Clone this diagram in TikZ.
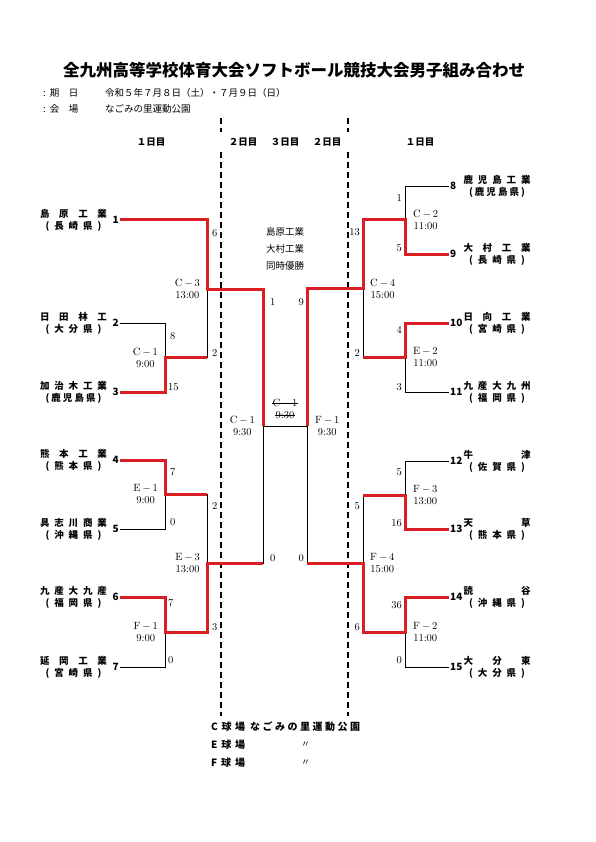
\documentclass[tikz,border=0pt]{standalone}
\usepackage{fontspec}
\newfontfamily\jp{Noto Sans CJK JP}
\usetikzlibrary{positioning}
\definecolor{winred}{RGB}{218,30,36}

\tikzset{
  win/.style={draw=winred, line width=3pt},
  lose/.style={draw=black, line width=0.7pt},
  roundline/.style={draw=black, line width=1.6pt, dash pattern=on 6pt off 4pt},
  num/.style={font=\jp\bfseries\fontsize{10}{10}\selectfont, inner sep=1pt},
  team/.style={font=\jp\bfseries\fontsize{9.5}{10}\selectfont, inner sep=0pt},
  score/.style={font=\fontsize{10.5}{10}\selectfont, inner sep=1pt},
  game/.style={font=\fontsize{10.5}{12}\selectfont, align=center, inner sep=0pt},
  day/.style={font=\jp\bfseries\fontsize{9.5}{10}\selectfont},
  info/.style={font=\jp\fontsize{9.5}{10}\selectfont, anchor=west, inner sep=0pt},
}

\begin{document}
\begin{tikzpicture}[x=1pt, y=-1pt]
\useasboundingbox (0,0) rectangle (595,842);

  % title and dates
  \node[font=\jp\bfseries\fontsize{16.5}{17}\selectfont] (title) at (294,70) {全九州高等学校体育大会ソフトボール競技大会男子組み合わせ};
  \node[info] (lbl1) at (43,93) {:\hspace{4pt}期　日};
  \node[info] (date) at (105,93) {令和５年７月８日（土）・７月９日（日）};
  \node[info] (lbl2) at (43,109) {:\hspace{4pt}会　場};
  \node[info] (place) at (105,109) {なごみの里運動公園};

  % days
  \node[day] (d1L) at (151,142) {１日目};
  \node[day] (d2L) at (243,142) {２日目};
  \node[day] (d3) at (285,142) {３日目};
  \node[day] (d2R) at (327,142) {２日目};
  \node[day] (d1R) at (420,142) {１日目};

  \draw[roundline] (221,118) -- (221,132) (221,152) -- (221,716);
  \draw[roundline] (348,118) -- (348,132) (348,152) -- (348,716);

  % teams
  \foreach \n/\y/\name/\pref in {1/220/島 原 工 業/長 崎 県,2/323/日 田 林 工/大 分 県,3/392/加 治 木 工 業/鹿 児 島 県,4/460/熊 本 工 業/熊 本 県,5/529/具 志 川 商 業/沖 縄 県,6/597/九 産 大 九 産/福 岡 県,7/667/延 岡 工 業/宮 崎 県} {
    \node[num, anchor=east] (t\n) at (120,\y) {\n};
    \node[team] (n\n) at (73.5,\y-6) {\makebox[67pt][s]{\name}};
    \node[team] (p\n) at (73.5,\y+6.5) {\makebox[56pt][s]{( \pref{} )}};
  }
  \foreach \n/\y/\name/\pref in {8/186/鹿 児 島 工 業/鹿 児 島 県,9/254/大 村 工 業/長 崎 県,10/323/日 向 工 業/宮 崎 県,11/392/九 産 大 九 州/福 岡 県,12/461/牛 津/佐 賀 県,13/529/天 草/熊 本 県,14/597/読 谷/沖 縄 県,15/667/大 分 東/大 分 県} {
    \node[num, anchor=west] (t\n) at (449,\y) {\n};
    \node[team] (n\n) at (497,\y-6) {\makebox[67pt][s]{\name}};
    \node[team] (p\n) at (497,\y+6.5) {\makebox[56pt][s]{( \pref{} )}};
  }

  % match points
  \coordinate (c1) at (165,357.5);
  \coordinate (e1) at (165,494.5);
  \coordinate (f1) at (165,632);
  \coordinate (c3) at (207,289);
  \coordinate (e3) at (207,563);
  \coordinate (semiL) at (263,426);
  \coordinate (c2) at (405,220);
  \coordinate (e2) at (405,357.5);
  \coordinate (f3) at (405,495);
  \coordinate (f2) at (405,632);
  \coordinate (c4) at (363,288.5);
  \coordinate (f4) at (363,563.5);
  \coordinate (semiR) at (307,426);

  % losers
  \draw[lose] (t2.east) -| (c1);
  \draw[lose] (t5.east) -| (e1);
  \draw[lose] (t7.east) -| (f1);
  \draw[lose] (c1) -| (c3);
  \draw[lose] (e1) -| (e3);
  \draw[lose] (e3) -| (semiL);
  \draw[lose] (semiL) -- (semiR);
  \draw[lose] (t8.west) -| (c2);
  \draw[lose] (t11.west) -| (e2);
  \draw[lose] (t12.west) -| (f3);
  \draw[lose] (t15.west) -| (f2);
  \draw[lose] (e2) -| (c4);
  \draw[lose] (f3) -| (f4);
  \draw[lose] (f4) -| (semiR);

  % winners
  \draw[win] (t1.east) -| (c3) -| (semiL);
  \draw[win] (t3.east) -| (c1) -- (c1 -| c3);
  \draw[win] (t4.east) -| (e1) -- (e1 -| e3);
  \draw[win] (t6.east) -| (f1) -| (e3) -- (e3 -| semiL);
  \draw[win] (t9.west) -| (c2) -| (c4) -| (semiR);
  \draw[win] (t10.west) -| (e2) -- (e2 -| c4);
  \draw[win] (t13.west) -| (f3) -- (f3 -| f4);
  \draw[win] (t14.west) -| (f2) -| (f4) -- (f4 -| semiR);

  % scores
  \foreach \s/\x/\y [count=\i] in {6/211/233,2/211/353,8/169/336,15/167/387,7/169/472,0/169/522,2/211/506,3/211/627,7/167/603,0/167/660,1/269/302,0/269/558}
    \node[score, anchor=west] (scL\i) at (\x,\y) {\s};
  \foreach \s/\x/\y [count=\i] in {1/403/198,5/403/248,13/361/232,2/361/353,4/403/330,3/403/387,5/403/472,16/403/523,5/361/506,6/361/627,36/403/605,0/403/660,9/305/302,0/305/558}
    \node[score, anchor=east] (scR\i) at (\x,\y) {\s};

  % games
  \node[game, left=7pt of c1] (gC1) {C\,$-$\,1\\9:00};
  \node[game, left=7pt of e1] (gE1) {E\,$-$\,1\\9:00};
  \node[game, left=7pt of f1] (gF1) {F\,$-$\,1\\9:00};
  \node[game, left=7pt of c3] (gC3) {C\,$-$\,3\\13:00};
  \node[game, left=7pt of e3] (gE3) {E\,$-$\,3\\13:00};
  \node[game, left=8pt of semiL] (gSL) {C\,$-$\,1\\9:30};
  \node[game, right=8pt of c2] (gC2) {C\,$-$\,2\\11:00};
  \node[game, right=8pt of e2] (gE2) {E\,$-$\,2\\11:00};
  \node[game, right=8pt of f3] (gF3) {F\,$-$\,3\\13:00};
  \node[game, right=8pt of f2] (gF2) {F\,$-$\,2\\11:00};
  \node[game, right=7pt of c4] (gC4) {C\,$-$\,4\\15:00};
  \node[game, right=7pt of f4] (gF4) {F\,$-$\,4\\15:00};
  \node[game, right=8pt of semiR] (gSR) {F\,$-$\,1\\9:30};

  % final, struck out
  \node[game] (gFinalA) at (285,403) {C\,$-$\,1};
  \node[game] (gFinalB) at (285,415) {9:30};
  \draw[line width=0.6pt] (gFinalA.west) -- (gFinalA.east);
  \draw[line width=0.6pt] (gFinalB.west) -- (gFinalB.east);

  \node[font=\jp\fontsize{9.5}{17}\selectfont, align=center] (champ) at (285,249) {島原工業\\大村工業\\同時優勝};

  % fields
  \node[info, font=\jp\bfseries\fontsize{10}{10}\selectfont] (fC) at (211,727) {\makebox[34pt][s]{C 球 場}};
  \node[info, font=\jp\bfseries\fontsize{10}{10}\selectfont] (fCname) at (250,727) {\makebox[110pt][s]{な ご み の 里 運 動 公 園}};
  \node[info, font=\jp\bfseries\fontsize{10}{10}\selectfont] (fE) at (211,745) {\makebox[34pt][s]{E 球 場}};
  \node[info, font=\jp\fontsize{9}{10}\selectfont] (fEsame) at (301,745) {〃};
  \node[info, font=\jp\bfseries\fontsize{10}{10}\selectfont] (fF) at (211,763) {\makebox[34pt][s]{F 球 場}};
  \node[info, font=\jp\fontsize{9}{10}\selectfont] (fFsame) at (301,763) {〃};

\end{tikzpicture}
\end{document}
